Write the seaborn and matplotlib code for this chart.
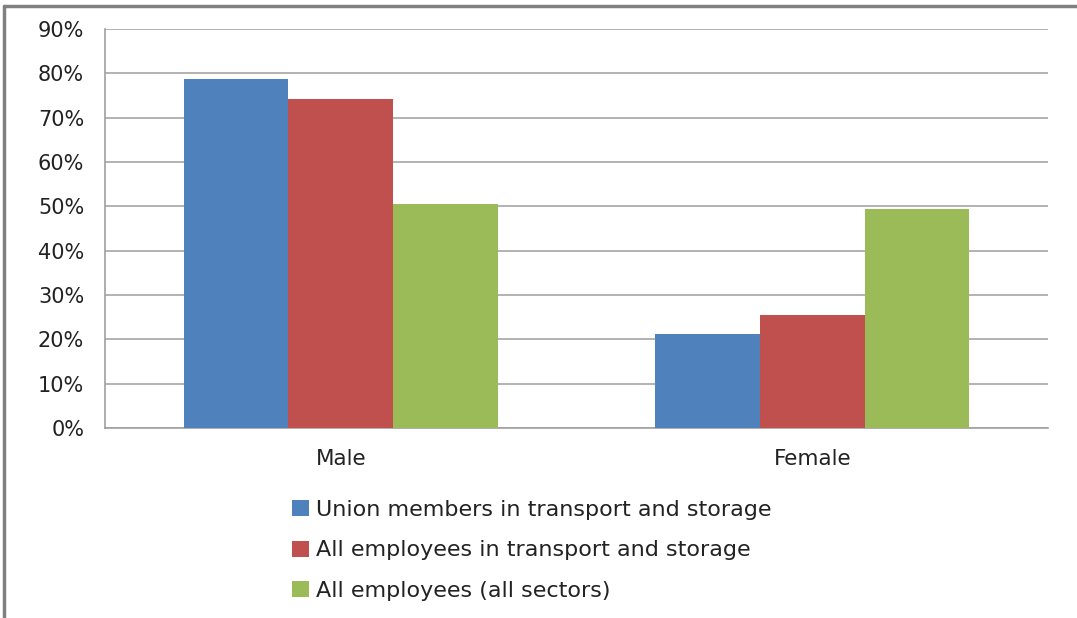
import pandas as pd
import matplotlib.pyplot as plt
import matplotlib.lines as mlines
import matplotlib.ticker as mticker
import seaborn as sns

categories = ["Male", "Female"]
series = [
    "Union members in transport and storage",
    "All employees in transport and storage",
    "All employees (all sectors)",
]
union_members = [0.787, 0.212]
transport_all = [0.743, 0.255]
all_sectors = [0.505, 0.493]
colors = ["#4F81BD", "#C0504D", "#9BBB59"]

rows = []
for name, vals in zip(series, [union_members, transport_all, all_sectors]):
    for cat, v in zip(categories, vals):
        rows.append({"Sex": cat, "Series": name, "Share": v})
df = pd.DataFrame(rows)

sns.set_style("white")
plt.rcParams["font.family"] = ["DejaVu Sans"]

W, H = 1077, 618
fig = plt.figure(figsize=(W / 100, H / 100), dpi=100)
ax = fig.add_axes([105 / W, 1 - 428 / H, (1048 - 105) / W, (428 - 29) / H])

sns.barplot(data=df, x="Sex", y="Share", hue="Series", order=categories,
            hue_order=series, palette=colors, width=0.666, saturation=1,
            linewidth=0, legend=True, ax=ax, zorder=3)

ax.set_xlim(-0.5, 1.5)
ax.set_ylim(0, 0.9)
ax.set_yticks([i / 10 for i in range(10)])
ax.yaxis.set_major_formatter(mticker.PercentFormatter(1.0, decimals=0))
ax.grid(axis="y", color="#A6A6A6", linewidth=1.2, zorder=0)
ax.set_axisbelow(True)
ax.set_xlabel("")
ax.set_ylabel("")

for s in ["top", "right"]:
    ax.spines[s].set_visible(False)
for s in ["left", "bottom"]:
    ax.spines[s].set_color("#A0A0A0")
    ax.spines[s].set_linewidth(1.2)

ax.tick_params(axis="y", length=7, color="#A0A0A0", labelsize=15, pad=8,
               labelcolor="#222222")
ax.tick_params(axis="x", which="major", length=0, labelsize=15.5, pad=15,
               labelcolor="#222222")
ax.set_xticks([-0.5, 0.5, 1.5], minor=True)
ax.tick_params(axis="x", which="minor", length=7, color="#A0A0A0")

handles, labels = ax.get_legend_handles_labels()
ax.get_legend().remove()
fig.legend(handles, labels, loc="upper left",
           bbox_to_anchor=(272 / W, 1 - 480 / H), frameon=False,
           fontsize=16, handlelength=0.75, handleheight=0.75,
           handletextpad=0.35, labelspacing=0.92, labelcolor="#222222")

# outer frame (left and top edges visible in the reference crop)
fig.add_artist(mlines.Line2D([4 / W, 4 / W], [0, 1 - 6 / H],
                             transform=fig.transFigure, color="#808080", lw=2.5))
fig.add_artist(mlines.Line2D([4 / W, 1], [1 - 6 / H, 1 - 6 / H],
                             transform=fig.transFigure, color="#808080", lw=2.5))

fig.savefig("out.png", dpi=100)
